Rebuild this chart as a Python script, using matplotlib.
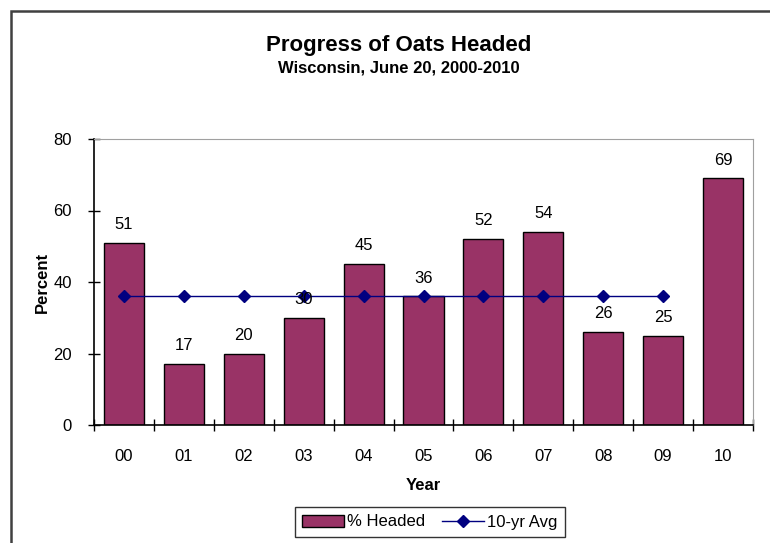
import matplotlib.pyplot as plt
import numpy as np
from matplotlib.patches import Rectangle

plt.rcParams['font.family'] = ['Liberation Sans', 'DejaVu Sans']

years = ['00', '01', '02', '03', '04', '05', '06', '07', '08', '09', '10']
headed = [51, 17, 20, 30, 45, 36, 52, 54, 26, 25, 69]
avg_years = ['00', '01', '02', '03', '04', '05', '06', '07', '08', '09']
avg = [36, 36, 36, 36, 36, 36, 36, 36, 36, 36]

fig = plt.figure(figsize=(7.7, 5.43), dpi=100)
W, H = 770, 543
ax = fig.add_axes([94 / W, 1 - 425 / H, (753 - 94) / W, (425 - 139) / H])

x = np.arange(len(years))
ax.bar(x, headed, width=0.67, color='#993366', edgecolor='black',
       linewidth=1, label='% Headed', zorder=2)
for xi, v in zip(x, headed):
    ax.text(xi, v + 3, str(v), ha='center', va='bottom', fontsize=12, zorder=4)

xa = [years.index(y) for y in avg_years]
ax.plot(xa, avg, color='#000080', marker='D', markersize=6, linewidth=1,
        label='10-yr Avg', zorder=3)

ax.set_xlim(-0.5, len(years) - 0.5)
ax.set_ylim(0, 80)
ax.set_yticks([0, 20, 40, 60, 80])
ax.set_xticks(x)
ax.set_xticklabels(years, fontsize=12)
ax.set_xticks(np.arange(-0.5, len(years)), minor=True)
ax.tick_params(axis='x', which='major', length=0, pad=17)
ax.tick_params(axis='x', which='minor', length=8, direction='inout', width=1)
ax.tick_params(axis='y', length=8, direction='inout', width=1, labelsize=12,
               pad=12)

ax.spines['left'].set_color('black')
ax.spines['bottom'].set_color('black')
ax.spines['left'].set_linewidth(1.2)
ax.spines['bottom'].set_linewidth(1.2)
ax.spines['top'].set_color('#a0a0a0')
ax.spines['right'].set_color('#a0a0a0')

ax.set_xlabel('Year', fontsize=12, fontweight='bold', labelpad=10)
ax.set_ylabel('Percent', fontsize=12, fontweight='bold', labelpad=2)

fig.text(399 / W, 1 - 45 / H, 'Progress of Oats Headed', ha='center',
         va='center', fontsize=16, fontweight='bold')
fig.text(399 / W, 1 - 68 / H, 'Wisconsin, June 20, 2000-2010', ha='center',
         va='center', fontsize=12, fontweight='bold')

handles, labels = ax.get_legend_handles_labels()
order = [labels.index('% Headed'), labels.index('10-yr Avg')]
leg = fig.legend([handles[i] for i in order], [labels[i] for i in order],
                 loc='center', bbox_to_anchor=(430 / W, 1 - 522 / H), ncol=2,
                 frameon=True, fancybox=False, edgecolor='black', fontsize=12,
                 handlelength=2.5, columnspacing=1.0, handletextpad=0.2,
                 borderpad=0.45)
leg.get_frame().set_linewidth(1)

fig.patches.append(Rectangle((11 / W, -0.05), 1.0, 1 - 11 / H + 0.05,
                             transform=fig.transFigure, fill=False,
                             edgecolor='#404040', linewidth=1.8))

fig.savefig('out.png', dpi=100)
